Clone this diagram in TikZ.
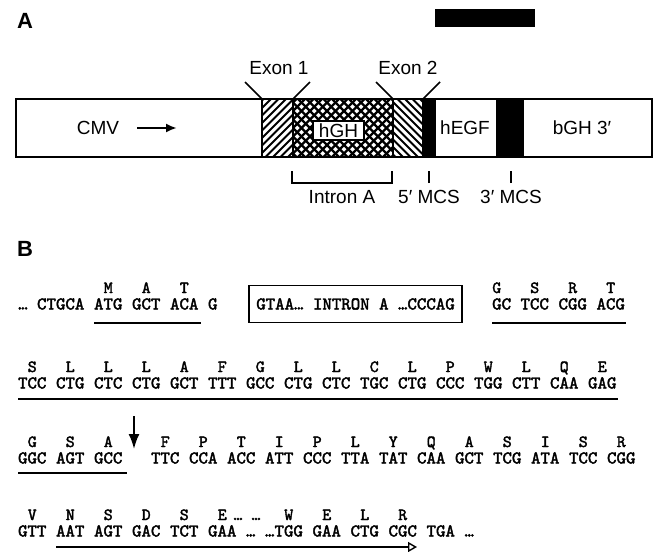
\documentclass[tikz,border=0pt]{standalone}
\usepackage{fontspec}
\setmainfont{Liberation Sans}
\newfontfamily\seqfont{lmmono10-regular.otf}[FakeBold=2.2]
\usetikzlibrary{arrows.meta,positioning}

\begin{document}
\begin{tikzpicture}[x=1pt, y=-1pt, >=Latex,
  lab/.style={font=\fontsize{19}{21}\selectfont, inner sep=0pt},
  panel/.style={font=\fontsize{22}{24}\selectfont\bfseries, inner sep=0pt},
  codon/.style={font=\seqfont\fontsize{18}{20}\selectfont, inner sep=0pt, anchor=base},
  aa/.style={codon, font=\seqfont\fontsize{17}{19}\selectfont},
  seg/.style={draw, line width=1.8pt},
  hatch/.style={line width=1.8pt},
  tick/.style={line width=1.6pt},
  uline/.style={line width=1.8pt}]
  \useasboundingbox (0,0) rectangle (654,552);

  % --- A: construct map
  \node[panel] (pA) at (25,20.5) {A};
  \fill (435,9) rectangle (535,27);
  \coordinate (x1) at (262,99); \coordinate (x2) at (293,99);
  \coordinate (x3) at (393,99); \coordinate (x4) at (423,99);
  \begin{scope}
    \clip (262,99) rectangle (293,157);
    \foreach \k in {0,...,14} \draw[hatch] ({198+7.5*\k},157) -- ++(70,-70);
  \end{scope}
  \begin{scope}
    \clip (393,99) rectangle (423,157);
    \foreach \k in {0,...,14} \draw[hatch] ({330+7.5*\k},99) -- ++(70,70);
  \end{scope}
  \begin{scope}
    \clip (293,99) rectangle (393,157);
    \foreach \k in {0,...,20} {
      \draw[line width=2.2pt] ({230+8.5*\k},157) -- ++(70,-70);
      \draw[line width=2.2pt] ({230+8.5*\k},99) -- ++(70,70);
    }
  \end{scope}
  \fill (423,99) rectangle (436,157);
  \fill (496,99) rectangle (524,157);
  \draw[seg] (16,99) rectangle (652,157);
  \draw[seg] (x1) -- ++(0,58) (x2) -- ++(0,58) (x3) -- ++(0,58) (x4) -- ++(0,58);
  \node[lab, draw, fill=white, line width=1.6pt, minimum width=51pt, minimum height=19pt] (hgh) at (338.5,130.5) {hGH};
  \node[lab] (cmv) at (98,128) {CMV};
  \coordinate (pr0) at (137,128); \coordinate (pr1) at (177,128);
  \draw[-{Latex[length=11pt,width=9pt]}, line width=2.2pt] (pr0) -- (pr1);
  \node[lab] (hegf) at (465,128) {hEGF};
  \node[lab] (bgh) at (582,128) {bGH 3′};
  \draw[tick] (x1) -- ++(-17,-17) (x2) -- ++(17,-17);
  \draw[tick] (x3) -- ++(-17,-17) (x4) -- ++(17,-17);
  \node[lab] (ex1) at (279,68) {Exon 1};
  \node[lab] (ex2) at (408,68) {Exon 2};
  \draw[line width=1.3pt] (292,171) -- (292,183) -- (392,183) -- (392,171);
  \coordinate (t0) at (342,183);
  \coordinate (t5) at (429,183); \coordinate (t3) at (511,183);
  \draw[tick] (t5) -- ++(0,-12) (t3) -- ++(0,-12);
  \node[lab, below=7pt of t0] (intA) {Intron A};
  \node[lab, below=7pt of t5] (m5) {5′ MCS};
  \node[lab, below=7pt of t3] (m3) {3′ MCS};

  % --- B: sequence
  \node[panel] (pB) at (25,249) {B};
  % row 1
  \node[codon, anchor=base west] (r1) at (18,309.5) {… CTGCA};
  \foreach \c/\a [count=\i from 0] in {ATG/M,GCT/A,ACA/T}{
    \node[codon] (a\i) at ({108.25+38*\i},309.5) {\c};
    \node[aa, above=16.5pt of a\i.base, anchor=base] (pa\i) {\a};
  }
  \node[codon] (g1) at (212.75,309.5) {G};
  \node[codon, anchor=base, draw, line width=1.6pt, inner xsep=7.5pt, minimum height=37pt] (intr) at (355.5,309.5) {GTAA… INTRON A …CCCAG};
  \node[codon, anchor=base west] (gc) at (492,309.5) {GC};
  \node[aa] (pg) at (496.75,293) {G};
  \foreach \c/\a [count=\i from 0] in {TCC/S,CGG/R,ACG/T}{
    \node[codon] (d\i) at ({534.75+38*\i},309.5) {\c};
    \node[aa, above=16.5pt of d\i.base, anchor=base] (pd\i) {\a};
  }
  \draw[uline] (94,323) -- (201,323);
  \draw[uline] (492,323) -- (626,323);
  % row 2
  \foreach \c/\a [count=\i from 0] in {TCC/S,CTG/L,CTC/L,CTG/L,GCT/A,TTT/F,GCC/G,CTG/L,
      CTC/L,TGC/C,CTG/L,CCC/P,TGG/W,CTT/L,CAA/Q,GAG/E}{
    \node[codon] (b\i) at ({32.25+38*\i},388.5) {\c};
    \node[aa, above=16.5pt of b\i.base, anchor=base] (pb\i) {\a};
  }
  \draw[uline] (18,399) -- (618,399);
  % row 3
  \foreach \c/\a [count=\i from 0] in {GGC/G,AGT/S,GCC/A}{
    \node[codon] (c\i) at ({32.25+38*\i},463.5) {\c};
    \node[aa, above=16.5pt of c\i.base, anchor=base] (pc\i) {\a};
  }
  \foreach \c/\a [count=\i from 0] in {TTC/F,CCA/P,ACC/T,ATT/I,CCC/P,TTA/L,TAT/Y,
      CAA/Q,GCT/A,TCG/S,ATA/I,TCC/S,CGG/R}{
    \node[codon] (e\i) at ({165.25+38*\i},463.5) {\c};
    \node[aa, above=16.5pt of e\i.base, anchor=base] (pe\i) {\a};
  }
  \draw[uline] (18,473) -- (127,473);
  \coordinate (cut0) at (134,416); \coordinate (cut1) at (134,449);
  \draw[line width=2pt, -{Latex[length=15pt,width=11pt]}] (cut0) -- (cut1);
  % row 4
  \foreach \c/\a [count=\i from 0] in {GTT/V,AAT/N,AGT/S,GAC/D,TCT/S,GAA/E}{
    \node[codon] (f\i) at ({32.25+38*\i},536.5) {\c};
    \node[aa, above=16.5pt of f\i.base, anchor=base] (pf\i) {\a};
  }
  \node[codon] (dot1) at (250.75,536.5) {…};
  \node[codon] (dot2) at (269.75,536.5) {…};
  \node[aa] (pdot1) at (238,520) {…};
  \node[aa] (pdot2) at (256,520) {…};
  \foreach \c/\a [count=\i from 0] in {TGG/W,GAA/E,CTG/L,CGC/R}{
    \node[codon] (h\i) at ({288.75+38*\i},536.5) {\c};
    \node[aa, above=16.5pt of h\i.base, anchor=base] (ph\i) {\a};
  }
  \node[codon] (stop) at (440.75,536.5) {TGA};
  \node[codon] (dot3) at (469.25,536.5) {…};
  \coordinate (egf0) at (56,547); \coordinate (egf1) at (417,547);
  \draw[uline, -{Triangle[open,length=9pt,width=10pt,line width=1.4pt]}] (egf0) -- (egf1);
\end{tikzpicture}
\end{document}
